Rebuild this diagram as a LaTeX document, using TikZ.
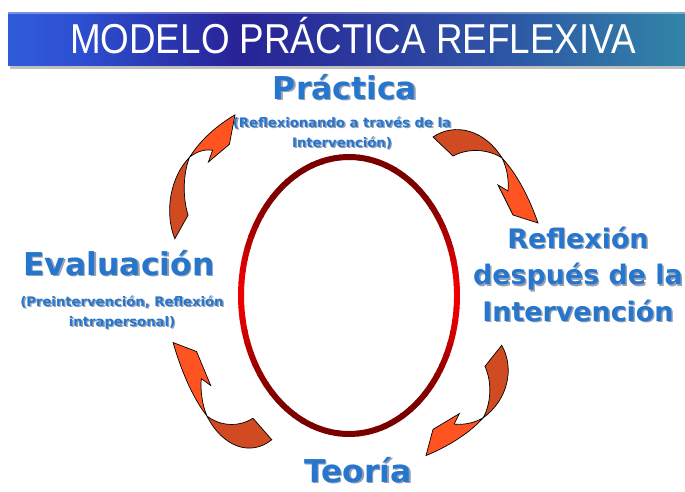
\documentclass[tikz,border=0pt]{standalone}
\usepackage{fontspec}
\usepackage{tikz}
\usetikzlibrary{positioning}
\newfontfamily\labelfont{DejaVu Sans}
\newfontfamily\titlefont[FakeStretch=0.88]{Liberation Sans}

\definecolor{labelblue}{RGB}{38,118,206}
\definecolor{labelshade}{RGB}{150,160,178}
\definecolor{arrowdark}{RGB}{208,74,34}
\definecolor{arrowlight}{RGB}{255,84,34}
\definecolor{ringdark}{RGB}{122,0,0}
\definecolor{ringlight}{RGB}{240,0,0}
\definecolor{bara}{RGB}{60,150,245}
\definecolor{barb}{RGB}{45,80,210}
\definecolor{barc}{RGB}{40,35,150}
\definecolor{bard}{RGB}{45,80,165}
\definecolor{bare}{RGB}{50,150,168}
\definecolor{barf}{RGB}{70,205,160}
\pgfdeclarehorizontalshading{titlebar}{100bp}{color(0bp)=(bara); color(30bp)=(barb); color(42bp)=(barc); color(60bp)=(bard); color(80bp)=(bare); color(100bp)=(barf)}

\newcommand\shadowline[1]{\makebox[0pt][l]{\kern0.8pt\raisebox{-0.9pt}{\textcolor{labelshade}{#1}}}#1}

\tikzset{head text/.style={font=\labelfont\bfseries\fontsize{17.9}{21}\selectfont,text=labelblue,inner sep=0pt,anchor=base},
side text/.style={font=\labelfont\bfseries\fontsize{15.3}{20.7}\selectfont,text=labelblue,inner sep=0pt,align=center},
note text/.style={font=\labelfont\bfseries\fontsize{7.5}{11.3}\selectfont,text=labelblue,inner sep=0pt,align=center},
title text/.style={font=\titlefont\fontsize{23.8}{28}\selectfont,text=white,inner sep=0pt,anchor=base},
ring/.style={line width=3.4pt},
turn arrow/.pic={
	\filldraw[fill=arrowdark,draw=black,line width=0.4pt]
	(-54,-36) .. controls (-32,-51) and (-2,-43) .. (15,-15)
	.. controls (3,-23) and (-17,-26) .. (-34,-17) -- cycle;
	\filldraw[fill=arrowlight,draw=black,line width=0.4pt]
	(15,-15) .. controls (31,2) and (43,27) .. (51,50) -- (26,42) -- (11,12) -- (21,18)
	.. controls (22,7) and (20,-5) .. (15,-15) -- cycle;
},
}

\begin{document}
\begin{tikzpicture}[x=0.02cm,y=-0.02cm]
			\fill[white] (0,0) rectangle (685,491);
			\useasboundingbox (0,0) rectangle (685,491);
			
			%% title bar
			\fill[black!25] (10,16) rectangle (685,69);
			\shade[shading=titlebar] (8,12) rectangle (685,65);
			\draw[white,opacity=0.35,line width=1.5pt] (8,13) -- (685,13);
			\node[title text] (title) at (353,53) {MODELO PRÁCTICA REFLEXIVA};
			
			%% ring
			\coordinate (ringc) at (349,295.5);
			\foreach \a in {0,5,...,355}{
				\pgfmathsetmacro\mix{100*abs(cos(\a+2.5))^8}
				\draw[ring,ringlight!\mix!ringdark] (ringc) ++(\a:108 and 138.5)
				arc[start angle=\a,end angle=\a+5.6,x radius=108,y radius=138.5];
			}
			
			%% arrows
			\pic (arrow1) [xscale=0.7,yscale=1.18,rotate=90] at (200,175) {turn arrow};
			\pic (arrow2) at (487,173) {turn arrow};
			\pic (arrow3) [xscale=0.88,yscale=1.05,rotate=-90] at (470,402) {turn arrow};
			\pic (arrow4) [xscale=0.94,yscale=1.13,rotate=180] at (221,399) {turn arrow};
			
			%% labels (base = last line)
			\node[head text] (practica) at (345,99) {\shadowline{Práctica}};
			\node[note text,anchor=base] (practica note) at (342,147)
			{\shadowline{(Reflexionando a través de la}\\ \shadowline{Intervención)}};
			\node[head text] (evaluacion) at (119,275) {\shadowline{Evaluación}};
			\node[note text,anchor=base] (evaluacion note) at (122,326)
			{\shadowline{(Preintervención, Reflexión}\\ \shadowline{intrapersonal)}};
			\node[side text,anchor=base] (reflexion) at (578,321)
			{\shadowline{Reflexión}\\ \shadowline{después de la}\\ \shadowline{Intervención}};
			\node[head text] (teoria) at (358,482) {\shadowline{Teoría}};
			
\end{tikzpicture}
\end{document}
